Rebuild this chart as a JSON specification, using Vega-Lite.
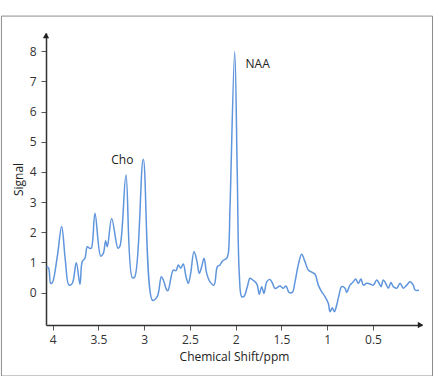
{
  "$schema": "https://vega.github.io/schema/vega-lite/v6.json",
  "width": 376,
  "height": 292,
  "autosize": {"type": "none"},
  "padding": {"left": 46, "top": 33, "right": 13, "bottom": 51},
  "background": "white",
  "config": {
    "view": {"stroke": null},
    "font": "Open Sans",
    "axis": {
      "grid": false,
      "domainColor": "#333333",
      "domainWidth": 1.5,
      "tickColor": "#555555",
      "tickSize": 5,
      "tickWidth": 1,
      "labelFont": "Open Sans",
      "labelFontSize": 12,
      "labelColor": "#333333",
      "labelOverlap": false,
      "titleFont": "Open Sans",
      "titleFontSize": 12,
      "titleFontWeight": "normal",
      "titleColor": "#222222"
    },
    "axisY": {"labelOverlap": false}
  },
  "datasets": {
    "spectrum": [
      {"ppm": 4.066, "signal": 0.86},
      {"ppm": 4.044, "signal": 0.81},
      {"ppm": 4.022, "signal": 0.31},
      {"ppm": 4.004, "signal": 0.33},
      {"ppm": 3.950, "signal": 1.19},
      {"ppm": 3.902, "signal": 2.19},
      {"ppm": 3.862, "signal": 1.08},
      {"ppm": 3.822, "signal": 0.25},
      {"ppm": 3.786, "signal": 0.31},
      {"ppm": 3.742, "signal": 0.99},
      {"ppm": 3.702, "signal": 0.28},
      {"ppm": 3.677, "signal": 1.03},
      {"ppm": 3.647, "signal": 1.14},
      {"ppm": 3.622, "signal": 1.52},
      {"ppm": 3.596, "signal": 1.47},
      {"ppm": 3.578, "signal": 1.47},
      {"ppm": 3.538, "signal": 2.63},
      {"ppm": 3.475, "signal": 1.21},
      {"ppm": 3.447, "signal": 1.30},
      {"ppm": 3.421, "signal": 1.72},
      {"ppm": 3.403, "signal": 1.52},
      {"ppm": 3.355, "signal": 2.46},
      {"ppm": 3.286, "signal": 1.47},
      {"ppm": 3.264, "signal": 1.55},
      {"ppm": 3.199, "signal": 3.90},
      {"ppm": 3.130, "signal": 0.50},
      {"ppm": 3.104, "signal": 0.52},
      {"ppm": 3.010, "signal": 4.42},
      {"ppm": 2.909, "signal": -0.25},
      {"ppm": 2.857, "signal": -0.13},
      {"ppm": 2.813, "signal": 0.53},
      {"ppm": 2.791, "signal": 0.42},
      {"ppm": 2.754, "signal": 0.09},
      {"ppm": 2.740, "signal": 0.07},
      {"ppm": 2.682, "signal": 0.75},
      {"ppm": 2.652, "signal": 0.73},
      {"ppm": 2.627, "signal": 0.92},
      {"ppm": 2.601, "signal": 0.81},
      {"ppm": 2.573, "signal": 0.95},
      {"ppm": 2.543, "signal": 0.53},
      {"ppm": 2.518, "signal": 0.31},
      {"ppm": 2.492, "signal": 0.64},
      {"ppm": 2.456, "signal": 1.36},
      {"ppm": 2.426, "signal": 1.08},
      {"ppm": 2.398, "signal": 0.64},
      {"ppm": 2.372, "signal": 0.86},
      {"ppm": 2.346, "signal": 1.14},
      {"ppm": 2.317, "signal": 0.64},
      {"ppm": 2.281, "signal": 0.36},
      {"ppm": 2.237, "signal": 0.25},
      {"ppm": 2.201, "signal": 0.86},
      {"ppm": 2.172, "signal": 0.92},
      {"ppm": 2.142, "signal": 1.06},
      {"ppm": 2.098, "signal": 1.14},
      {"ppm": 2.081, "signal": 1.30},
      {"ppm": 2.062, "signal": 2.85},
      {"ppm": 2.011, "signal": 7.98},
      {"ppm": 1.983, "signal": 3.95},
      {"ppm": 1.961, "signal": 0.64},
      {"ppm": 1.934, "signal": -0.13},
      {"ppm": 1.909, "signal": -0.12},
      {"ppm": 1.873, "signal": 0.20},
      {"ppm": 1.844, "signal": 0.48},
      {"ppm": 1.814, "signal": 0.42},
      {"ppm": 1.781, "signal": 0.34},
      {"ppm": 1.764, "signal": 0.25},
      {"ppm": 1.742, "signal": -0.05},
      {"ppm": 1.716, "signal": 0.20},
      {"ppm": 1.691, "signal": -0.02},
      {"ppm": 1.661, "signal": 0.36},
      {"ppm": 1.625, "signal": 0.44},
      {"ppm": 1.596, "signal": 0.30},
      {"ppm": 1.570, "signal": 0.14},
      {"ppm": 1.516, "signal": 0.22},
      {"ppm": 1.480, "signal": 0.15},
      {"ppm": 1.450, "signal": 0.22},
      {"ppm": 1.417, "signal": 0.01},
      {"ppm": 1.381, "signal": 0.01},
      {"ppm": 1.352, "signal": 0.36},
      {"ppm": 1.316, "signal": 0.92},
      {"ppm": 1.279, "signal": 1.27},
      {"ppm": 1.243, "signal": 1.03},
      {"ppm": 1.207, "signal": 0.75},
      {"ppm": 1.163, "signal": 0.67},
      {"ppm": 1.133, "signal": 0.61},
      {"ppm": 1.097, "signal": 0.25},
      {"ppm": 1.060, "signal": 0.03},
      {"ppm": 1.024, "signal": -0.13},
      {"ppm": 0.988, "signal": -0.35},
      {"ppm": 0.969, "signal": -0.63},
      {"ppm": 0.944, "signal": -0.50},
      {"ppm": 0.922, "signal": -0.63},
      {"ppm": 0.896, "signal": -0.41},
      {"ppm": 0.871, "signal": -0.08},
      {"ppm": 0.842, "signal": 0.20},
      {"ppm": 0.805, "signal": 0.15},
      {"ppm": 0.787, "signal": 0.01},
      {"ppm": 0.751, "signal": 0.25},
      {"ppm": 0.715, "signal": 0.36},
      {"ppm": 0.689, "signal": 0.45},
      {"ppm": 0.660, "signal": 0.31},
      {"ppm": 0.631, "signal": 0.45},
      {"ppm": 0.605, "signal": 0.25},
      {"ppm": 0.568, "signal": 0.31},
      {"ppm": 0.532, "signal": 0.29},
      {"ppm": 0.496, "signal": 0.25},
      {"ppm": 0.459, "signal": 0.42},
      {"ppm": 0.434, "signal": 0.32},
      {"ppm": 0.412, "signal": 0.20},
      {"ppm": 0.387, "signal": 0.42},
      {"ppm": 0.361, "signal": 0.31},
      {"ppm": 0.332, "signal": 0.15},
      {"ppm": 0.303, "signal": 0.34},
      {"ppm": 0.278, "signal": 0.20},
      {"ppm": 0.240, "signal": 0.15},
      {"ppm": 0.204, "signal": 0.31},
      {"ppm": 0.168, "signal": 0.15},
      {"ppm": 0.131, "signal": 0.25},
      {"ppm": 0.095, "signal": 0.36},
      {"ppm": 0.059, "signal": 0.25},
      {"ppm": 0.040, "signal": 0.09},
      {"ppm": -0.003, "signal": 0.08}
    ],
    "peaks": [
      {"ppm": 3.239, "signal": 4.39, "label": "Cho"},
      {"ppm": 1.760, "signal": 7.57, "label": "NAA"}
    ],
    "frame": [
      {"ppm": 4.56, "ppm_end": -0.151, "signal": 9.16, "signal_end": -2.76}
    ],
    "arrows": [
      {"ppm": -0.02, "signal": -1.07, "shape": "triangle-right"},
      {"ppm": 4.073, "signal": 8.52, "shape": "triangle-up"}
    ]
  },
  "encoding": {
    "x": {
      "field": "ppm", "type": "quantitative",
      "scale": {"domain": [-0.036, 4.073], "reverse": true, "nice": false, "zero": false},
      "axis": {"values": [4, 3.5, 3, 2.5, 2, 1.5, 1, 0.5], "format": "~g", "labelOverlap": false, "title": "Chemical Shift/ppm", "labelPadding": 4, "titlePadding": 6}
    },
    "y": {
      "field": "signal", "type": "quantitative",
      "scale": {"domain": [-1.07, 8.6], "nice": false, "zero": false},
      "axis": {"values": [0, 1, 2, 3, 4, 5, 6, 7, 8], "tickCount": 10, "format": "d", "labelOverlap": false, "labelFlush": false, "title": "Signal", "labelPadding": 5, "titlePadding": 4}
    }
  },
  "layer": [
    {
      "data": {"name": "spectrum"},
      "mark": {"type": "line", "color": "#5f95dc", "strokeWidth": 1.5, "interpolate": "catmull-rom"}
    },
    {
      "data": {"name": "frame"},
      "mark": {"type": "rect", "filled": false, "fillOpacity": 0, "stroke": "#8c8c8c", "strokeWidth": 1, "clip": false},
      "encoding": {
        "x2": {"field": "ppm_end"},
        "y2": {"field": "signal_end"}
      }
    },
    {
      "data": {"name": "peaks"},
      "mark": {"type": "text", "font": "Open Sans", "fontSize": 12, "color": "#222222", "align": "center", "baseline": "middle"},
      "encoding": {
        "text": {"field": "label"}
      }
    },
    {
      "data": {"name": "arrows"},
      "mark": {"type": "point", "filled": true, "color": "#222222", "size": 40, "opacity": 1, "clip": false},
      "encoding": {
        "shape": {"field": "shape", "type": "nominal", "scale": null}
      }
    }
  ]
}
